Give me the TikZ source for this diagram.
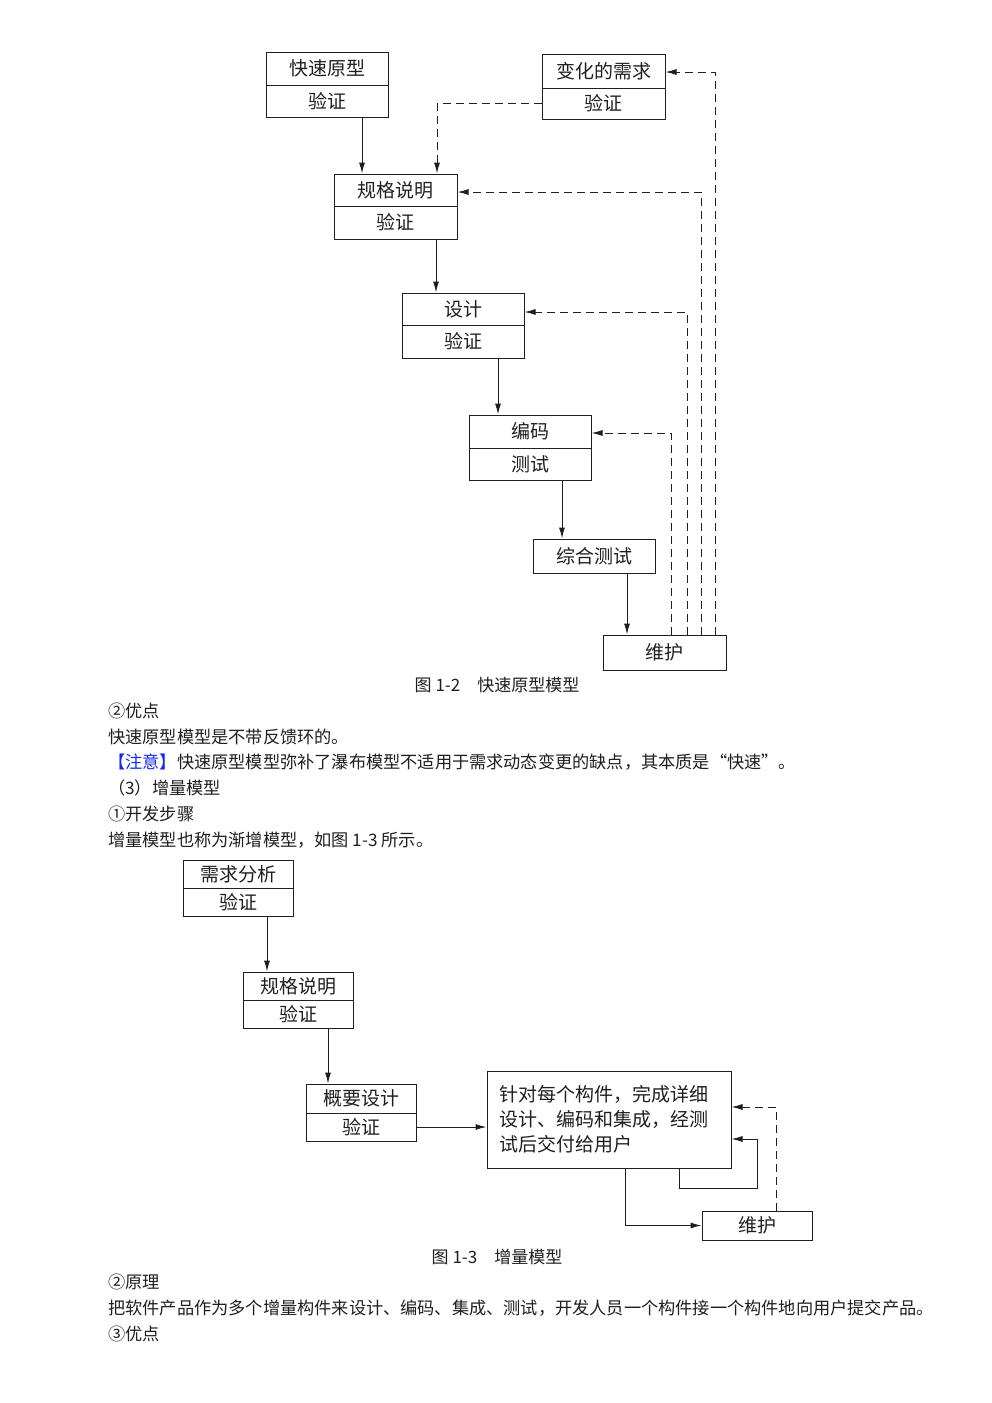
\documentclass[tikz,border=0pt]{standalone}
\usepackage{fontspec}
\newfontfamily\cjk{Noto Sans CJK SC}
\usetikzlibrary{arrows.meta}
\definecolor{ink}{gray}{0.12}
\definecolor{noteblue}{RGB}{20,40,235}
\tikzset{
  box/.style={draw=ink, line width=1pt, inner sep=0pt, rectangle},
  lbl/.style={font=\cjk\fontsize{19}{19}\selectfont, text=ink, inner sep=0pt},
  arr/.style={draw=ink, line width=1pt, -{Latex[length=11pt,width=6pt]}},
  darr/.style={arr, dash pattern=on 8pt off 5pt},
  divline/.style={draw=ink, line width=1pt},
  body/.style={font=\cjk\fontsize{17.2}{17.2}\selectfont, text=ink, anchor=west, inner sep=0pt},
  figcap/.style={font=\cjk\fontsize{17}{17}\selectfont, text=ink, inner sep=0pt},
}
% name, x1, y1, x2, y2, ydiv, top text, bottom text
\newcommand{\twopartbox}[8]{%
  \node[box, minimum width={#4-#2}, minimum height={#5-#3}] (#1) at ({(#2+#4)/2},{(#3+#5)/2}) {};
  \draw[divline] (#1.west |- 0,#6) -- (#1.east |- 0,#6);
  \node[lbl] (#1t) at ({(#2+#4)/2},{(#3+#6)/2}) {#7};
  \node[lbl] (#1b) at ({(#2+#4)/2},{(#6+#5)/2}) {#8};
}
\newcommand{\onepartbox}[6]{%
  \node[box, minimum width={#4-#2}, minimum height={#5-#3}] (#1) at ({(#2+#4)/2},{(#3+#5)/2}) {};
  \node[lbl] (#1t) at ({(#2+#4)/2},{(#3+#5)/2}) {#6};
}
\begin{document}
\begin{tikzpicture}[x=1pt, y=-1pt]
\useasboundingbox[fill=white] (0,0) rectangle (992,1403);

% ---------- Figure 1-2 ----------
\twopartbox{kx}{266}{52}{388}{117}{85}{快速原型}{验证}
\twopartbox{bh}{542}{54}{665}{119}{88}{变化的需求}{验证}
\twopartbox{gg}{334}{174}{457}{239}{206}{规格说明}{验证}
\twopartbox{sj}{402}{293}{524}{358}{325}{设计}{验证}
\twopartbox{bm}{469}{415}{591}{480}{448}{编码}{测试}
\onepartbox{zh}{533}{539}{655}{573}{综合测试}
\onepartbox{wh}{603}{635}{726}{670}{维护}

\draw[arr] (kx.south -| 362,0) -- (gg.north -| 362,0);
\draw[arr] (gg.south -| 436,0) -- (sj.north -| 436,0);
\draw[arr] (sj.south -| 498,0) -- (bm.north -| 498,0);
\draw[arr] (bm.south -| 562,0) -- (zh.north -| 562,0);
\draw[arr] (zh.south -| 627,0) -- (wh.north -| 627,0);

\draw[darr] (bh.west |- 0,103) -| (gg.north -| 437,0);
\draw[darr] (wh.north -| 715,0) |- (bh.east |- 0,72);
\draw[darr] (wh.north -| 701,0) |- (gg.east |- 0,192);
\draw[darr] (wh.north -| 687,0) |- (sj.east |- 0,312);
\draw[darr] (wh.north -| 671,0) |- (bm.east |- 0,433);

\node[figcap] (cap1) at (497,685) {图 1-2\quad 快速原型模型};

% ---------- body text ----------
\node[body] (t1) at (108,711) {②优点};
\node[body] (t2) at (108,737) {快速原型模型是不带反馈环的。};
\node[body] (t3) at (108,762) {{\color{noteblue}【注意】}快速原型模型弥补了瀑布模型不适用于需求动态变更的缺点，其本质是“快速”。};
\node[body] (t4) at (108,788) {（3）增量模型};
\node[body] (t5) at (108,814) {①开发步骤};
\node[body] (t6) at (108,840) {增量模型也称为渐增模型，如图 1-3 所示。};

% ---------- Figure 1-3 ----------
\twopartbox{xq}{183}{860}{293}{916}{888}{需求分析}{验证}
\twopartbox{gs}{243}{972}{353}{1028}{1000}{规格说明}{验证}
\twopartbox{gy}{306}{1084}{416}{1141}{1113}{概要设计}{验证}
\node[box, minimum width=244, minimum height=97] (big) at (609,1119.5) {};
\node[lbl, anchor=west] (bt1) at (499,1094) {针对每个构件，完成详细};
\node[lbl, anchor=west] (bt2) at (499,1119) {设计、编码和集成，经测};
\node[lbl, anchor=west] (bt3) at (499,1144) {试后交付给用户};
\onepartbox{wb}{702}{1211}{812}{1240}{维护}

\draw[arr] (xq.south -| 267,0) -- (gs.north -| 267,0);
\draw[arr] (gs.south -| 328,0) -- (gy.north -| 328,0);
\draw[arr] (gy.east |- 0,1127) -- (big.west |- 0,1127);
\draw[arr] (big.south -| 679,0) -- (679,1188) -- (757,1188) -- (757,1139) -- (big.east |- 0,1139);
\draw[arr] (big.south -| 625,0) |- (wb.west);
\draw[darr] (wb.north -| 776,0) |- (big.east |- 0,1107);

\node[figcap] (cap2) at (497,1257) {图 1-3\quad 增量模型};

\node[body] (t7) at (108,1282) {②原理};
\node[body] (t8) at (108,1308) {把软件产品作为多个增量构件来设计、编码、集成、测试，开发人员一个构件接一个构件地向用户提交产品。};
\node[body] (t9) at (108,1334) {③优点};
\end{tikzpicture}
\end{document}
